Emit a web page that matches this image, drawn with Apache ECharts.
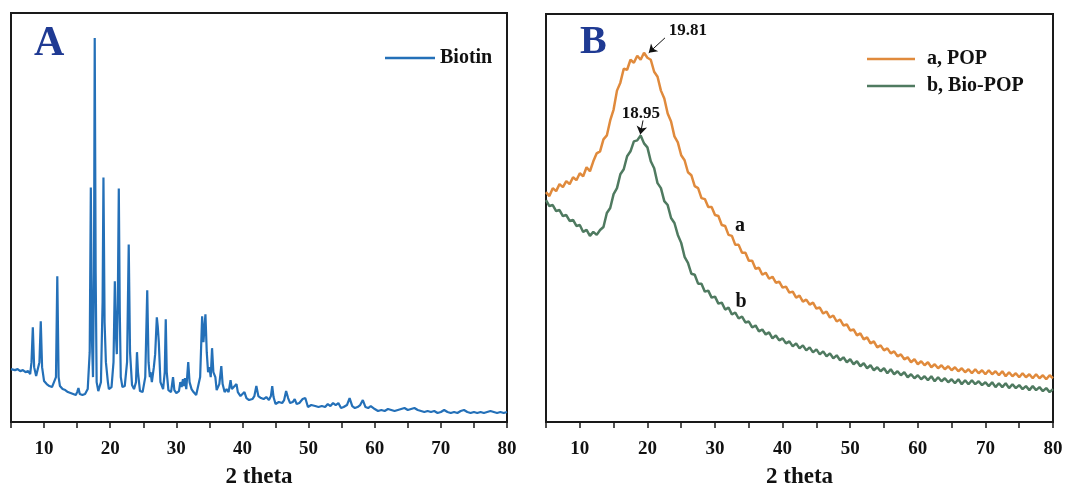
<!DOCTYPE html>
<html>
<head>
<meta charset="utf-8">
<script src="https://cdn.jsdelivr.net/npm/echarts@6/dist/echarts.min.js"></script>
<style>
html,body{margin:0;padding:0;background:#fff;}
#chart{width:1069px;height:494px;}
</style>
</head>
<body>
<div id="chart"></div>
<script>
// ---- Panel A: Biotin XRD (2theta, intensity a.u.) ----
const biotinTheta = [
5.0,5.3,5.6,6.0,6.4,6.8,7.2,7.6,7.9,
8.1,8.3,8.5,8.8,9.1,9.3,9.5,9.7,10.0,10.4,10.8,11.2,11.5,11.8,12.0,12.2,12.4,12.8,13.2,13.6,14.0,14.4,14.8,15.0,15.2,15.4,15.8,16.2,16.6,16.9,
17.07,17.25,17.4,17.55,17.66,17.8,17.95,18.2,18.6,18.85,18.98,19.15,19.35,19.5,19.65,19.8,20.2,20.5,20.7,20.85,21.0,21.15,21.3,21.45,21.6,21.85,22.2,22.55,22.8,23.0,23.3,23.6,23.9,24.05,24.2,24.5,24.9,
25.3,25.6,25.8,26.0,26.1,26.3,26.6,26.8,27.05,27.2,27.35,27.6,28.0,28.25,28.4,28.55,28.8,29.2,29.5,29.7,30.0,30.4,30.6,30.8,31.0,31.15,31.3,31.5,31.8,32.0,32.3,32.6,33.0,33.3,33.6,33.9,34.1,34.4,34.6,34.8,35.0,35.2,35.4,35.6,35.9,36.1,36.5,36.8,37.0,37.3,37.6,37.9,38.2,38.4,38.7,39.1,39.3,39.7,
40.0,40.3,40.6,41.0,41.5,41.8,42.1,42.4,42.8,43.2,43.6,44.0,44.3,44.5,44.7,45.0,45.5,46.0,46.3,46.6,46.9,47.2,47.6,47.9,48.2,48.6,49.1,49.5,49.9,
50.4,51.0,51.5,52.0,52.5,52.9,53.3,53.7,54.1,54.5,54.9,55.3,55.8,56.2,56.6,57.0,57.4,57.8,58.2,58.6,59.0,59.4,59.7,
60.0,60.5,61.0,61.5,62.0,62.5,63.0,63.5,64.0,64.5,65.0,65.5,66.0,66.5,67.0,67.5,68.0,68.5,69.0,69.5,
70.0,70.5,71.0,71.5,72.0,72.5,73.0,73.5,74.0,74.5,75.0,75.5,76.0,76.5,77.0,77.5,78.0,78.5,79.0,79.5,80.0
];
const biotinIntensity = [
53,54,52,53,51,52,50,51,48,
60,95,55,46,47,60,101,55,41,38,36,35,34,45,146,45,36,33,32,30,29,28,27,30,34,28,27,28,33,70,
235,80,45,150,385,150,40,31,40,120,245,100,60,58,40,33,35,60,141,90,68,120,234,110,45,35,36,60,178,70,37,33,40,70,50,31,30,
45,132,60,45,50,40,55,68,105,95,80,40,33,50,103,50,32,30,45,32,29,31,40,35,43,36,44,33,60,40,33,30,27,28,45,106,80,108,70,50,55,45,74,50,45,32,38,56,38,30,33,30,42,33,32,38,30,26,
25,30,24,22,23,26,36,26,24,23,25,22,26,36,25,18,20,19,22,31,24,19,20,23,18,19,23,24,15,
17,16,15,16,15,18,16,19,17,19,14,15,17,24,16,14,15,17,22,15,14,16,18,
13,11,12,11,13,12,11,12,13,14,12,13,14,12,11,10,11,10,11,9,
10,12,10,9,10,9,11,12,10,9,10,9,10,9,10,11,10,9,10,9,10
];

// ---- Panel B: POP and Bio-POP (2theta 5..80, step 0.5) ----
const thetaStartB = 5, thetaStepB = 0.5;
const popIntensity = [
231,227,235,232,239,236,242,239,246,243,
250,247,256,252,262,270,272,284,288,303,
314,333,341,355,354,364,361,368,364,371,
366,364,352,347,333,325,310,302,287,281,
268,263,251,248,237,235,225,224,216,216,
208,207,198,197,188,187,178,178,170,170,
162,162,154,155,148,150,144,146,140,141,
135,136,130,131,125,127,121,123,118,120,
114,115,109,111,105,107,101,103,97,98,
92,93,87,89,83,85,79,81,75,77,
72,74,69,71,66,68,63,65,60,63,
58,61,57,60,55,58,54,57,53,56,
52,55,51,54,50,53,49,53,49,52,
48,52,48,51,47,51,46,50,46,49,
45,49,45,48,44,48,44,47,43,47,
44
];
const bioPopIntensity = [
223,217,218,212,213,207,208,202,203,197,
198,191,193,187,191,188,193,196,210,215,
229,235,249,254,267,272,282,283,288,280,
276,262,255,240,235,222,218,205,200,188,
180,166,160,149,148,139,139,131,132,125,
126,119,120,113,115,108,110,104,106,100,
101,95,97,91,93,88,90,84,87,82,
84,79,81,76,79,74,77,72,75,70,
73,68,71,66,69,64,67,62,65,60,
63,58,61,56,59,54,57,52,55,51,
54,49,53,48,51,47,50,45,48,44,
47,43,46,42,46,41,45,41,44,40,
43,39,43,38,42,38,42,38,41,37,
40,36,40,35,39,35,39,34,38,34,
37,33,36,32,36,32,35,31,34,30,
33
];
const peakLabelsB = ['19.81', '18.95'];
const curveLabelsB = ['a', 'b'];
const xTicks = [10, 20, 30, 40, 50, 60, 70, 80];

const serif = "'Times New Roman','Liberation Serif',serif";
const toPairs = (xs, ys) => ys.map((y, i) => [xs[i], y]);
const gridPairs = ys => ys.map((y, i) => [thetaStartB + i * thetaStepB, y]);

const xAxisCommon = {
  type: 'value', min: 5, max: 80, interval: 5,
  axisLine: { lineStyle: { color: '#1a1a1a', width: 1.5 } },
  axisTick: { inside: false, length: 6, lineStyle: { color: '#1a1a1a', width: 1.5 } },
  splitLine: { show: false },
  axisLabel: {
    margin: 18, color: '#111', fontFamily: serif, fontWeight: 'bold', fontSize: 19,
    formatter: v => (xTicks.indexOf(v) >= 0 ? String(v) : '')
  },
  name: '2 theta', nameLocation: 'middle', nameGap: 44,
  nameTextStyle: { color: '#111', fontFamily: serif, fontWeight: 'bold', fontSize: 23 }
};
const yAxisCommon = {
  type: 'value', min: 0, max: 410,
  axisLine: { show: false }, axisTick: { show: false }, axisLabel: { show: false },
  splitLine: { show: false }
};

const chart = echarts.init(document.getElementById('chart'), null, { renderer: 'canvas' });
chart.setOption({
  animation: false,
  backgroundColor: '#fff',
  title: [
    { text: 'A', left: 34, top: 23, padding: 0,
      textStyle: { fontFamily: serif, fontWeight: 'bold', fontSize: 42, color: '#1f3a93' } },
    { text: 'B', left: 580, top: 23, padding: 0,
      textStyle: { fontFamily: serif, fontWeight: 'bold', fontSize: 40, color: '#1f3a93' } }
  ],
  grid: [
    { left: 11, top: 13, width: 496, height: 410, show: true, borderColor: '#1a1a1a', borderWidth: 2, backgroundColor: 'transparent' },
    { left: 546, top: 14, width: 507, height: 410, show: true, borderColor: '#1a1a1a', borderWidth: 2, backgroundColor: 'transparent' }
  ],
  xAxis: [
    Object.assign({ gridIndex: 0 }, xAxisCommon),
    Object.assign({ gridIndex: 1 }, xAxisCommon)
  ],
  yAxis: [
    Object.assign({ gridIndex: 0 }, yAxisCommon),
    Object.assign({ gridIndex: 1 }, yAxisCommon)
  ],
  legend: [
    { data: ['Biotin'], left: 385, top: 48, icon: 'rect', itemWidth: 50, itemHeight: 2.5, padding: 0,
      textStyle: { fontFamily: serif, fontWeight: 'bold', fontSize: 20, color: '#111' } },
    { data: ['a, POP', 'b, Bio-POP'], left: 867, top: 49, orient: 'vertical', itemGap: 7,
      icon: 'rect', itemWidth: 48, itemHeight: 2.5, padding: 0,
      textStyle: { fontFamily: serif, fontWeight: 'bold', fontSize: 20, color: '#111', padding: [0, 0, 0, 7] } }
  ],
  series: [
    {
      name: 'Biotin', type: 'line', xAxisIndex: 0, yAxisIndex: 0,
      data: toPairs(biotinTheta, biotinIntensity),
      showSymbol: false, symbol: 'none',
      lineStyle: { color: '#2470b8', width: 2.2 }, itemStyle: { color: '#2470b8' }
    },
    {
      name: 'a, POP', type: 'line', xAxisIndex: 1, yAxisIndex: 1,
      data: gridPairs(popIntensity),
      showSymbol: false, symbol: 'none',
      lineStyle: { color: '#e08a3c', width: 2.5 }, itemStyle: { color: '#e08a3c' },
      markLine: {
        silent: true, symbol: ['none', 'arrow'], symbolSize: 8,
        lineStyle: { color: '#111', width: 1, type: 'solid' },
        label: { show: false },
        data: [
          [{ coord: [22.6, 386] }, { coord: [20.2, 371] }],
          [{ coord: [19.35, 303] }, { coord: [18.95, 289] }]
        ]
      },
      markPoint: {
        silent: true, symbol: 'circle', symbolSize: 0,
        label: { show: true, position: 'inside', color: '#111', fontFamily: serif, fontWeight: 'bold', fontSize: 17 },
        data: [
          { coord: [26.0, 393], value: peakLabelsB[0], label: { formatter: peakLabelsB[0] } },
          { coord: [19.05, 310], value: peakLabelsB[1], label: { formatter: peakLabelsB[1] } },
          { coord: [33.7, 197], value: curveLabelsB[0], label: { formatter: curveLabelsB[0], fontSize: 20 } },
          { coord: [33.85, 121], value: curveLabelsB[1], label: { formatter: curveLabelsB[1], fontSize: 20 } }
        ]
      }
    },
    {
      name: 'b, Bio-POP', type: 'line', xAxisIndex: 1, yAxisIndex: 1,
      data: gridPairs(bioPopIntensity),
      showSymbol: false, symbol: 'none',
      lineStyle: { color: '#4f7a60', width: 2.5 }, itemStyle: { color: '#4f7a60' }
    }
  ]
});
</script>
</body>
</html>
